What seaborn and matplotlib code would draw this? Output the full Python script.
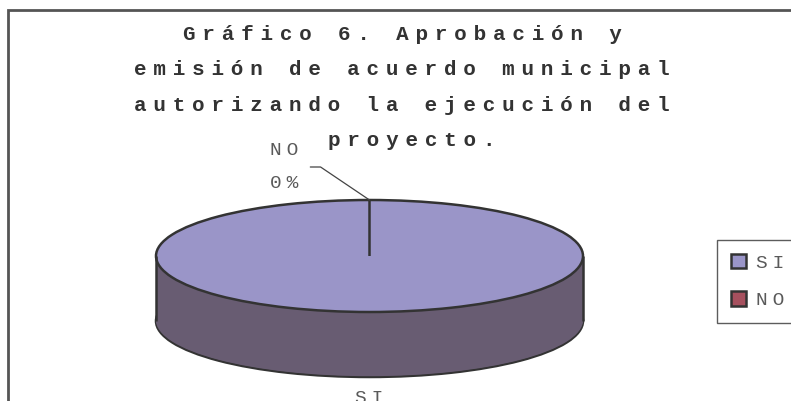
import numpy as np
import matplotlib
matplotlib.use("Agg")
import matplotlib.pyplot as plt
from matplotlib.patches import Rectangle
import seaborn as sns

categories = ["SI", "NO"]
values = [100, 0]
# lines as wrapped in the original chart (wrapped lines keep their trailing space)
title_lines = ["Gráfico 6. Aprobación y ",
               "emisión de acuerdo municipal ",
               "autorizando la ejecución del ",
               "proyecto."]

top_colors = ["#9A95C8", "#A6505E"]
side_colors = ["#685C72", "#6E3440"]
edge = "#333333"
text_grey = "#5a5a5a"

W, H = 791, 401
cx, cy = 369.5, 256   # centre of the pie top (px from top left)
rx, ry = 213.5, 56    # half axes of the top ellipse (px)
depth = 65            # cylinder height (px)

# wide letter spacing like the Courier text of the original
gap_title = "\u2004"
gap_label = "\u2005"


def spaced(s, gap):
    return gap.join(s)


sns.set_style("white")
plt.rcParams["font.family"] = ["Liberation Mono", "DejaVu Sans"]

fig = plt.figure(figsize=(W / 100, H / 100), dpi=100)
ax = fig.add_axes([0, 0, 1, 1])

d = depth / ry
pie_kw = dict(startangle=90, counterclock=False)

# side of the 3d pie: bottom outline, then the same pie stacked upwards
ax.pie(values, colors=side_colors, center=(0, -d),
       wedgeprops=dict(edgecolor=edge, linewidth=1.8), **pie_kw)
for off in np.linspace(-d, 0, 80)[1:]:
    ax.pie(values, colors=side_colors, center=(0, off),
           wedgeprops=dict(linewidth=0), **pie_kw)
ax.vlines([-1, 1], -d, 0, color=edge, lw=1.8)

# top face
wedges, _ = ax.pie(values, colors=top_colors,
                   wedgeprops=dict(edgecolor=edge, linewidth=1.8), **pie_kw)

ax.set_aspect("auto")
ax.set_xlim(-cx / rx, (W - cx) / rx)
ax.set_ylim(-(H - cy) / ry, cy / ry)
ax.axis("off")

# data labels
pcts = [v / sum(values) * 100 for v in values]
t_no = np.deg2rad(wedges[1].theta1)
ax.annotate(spaced(categories[1], gap_label) + "\n" + spaced(f"{pcts[1]:.0f}%", gap_label),
            xy=(np.cos(t_no), np.sin(t_no)), xytext=(-85, 33),
            textcoords="offset pixels", ha="center", va="center",
            fontsize=14, color=text_grey, linespacing=2.3,
            arrowprops=dict(arrowstyle="-", color="#444444", lw=0.9,
                            relpos=(1, 0.5), shrinkA=6, shrinkB=0,
                            connectionstyle="angle,angleA=0,angleB=146"))

t_si = np.deg2rad((wedges[0].theta1 + wedges[0].theta2) / 2)
ax.annotate(spaced(categories[0], gap_label),
            xy=(np.cos(t_si), np.sin(t_si) - d), xytext=(0, -13),
            textcoords="offset pixels", ha="center", va="top",
            fontsize=14, color=text_grey)

# title
for i, line in enumerate(title_lines):
    fig.text(412 / W, 1 - (40 + 35.3 * i) / H, spaced(line, gap_title),
             ha="center", va="baseline", fontsize=15, fontweight="bold",
             color="#333333")

# legend
leg = ax.legend(wedges, [spaced(c, gap_label) for c in categories],
                loc="upper left", bbox_to_anchor=(717 / W, 1 - 240 / H),
                bbox_transform=fig.transFigure, borderaxespad=0,
                frameon=True, fancybox=False, fontsize=14, labelcolor=text_grey,
                handlelength=0.8, handleheight=0.8, handletextpad=0.5,
                labelspacing=1.0, borderpad=0.7)
leg.get_frame().set_edgecolor("#333333")
leg.get_frame().set_linewidth(1.0)

# chart area border (only top and left edges are inside the picture)
fig.add_artist(Rectangle((8 / W, -0.5), 2, 1.5 - 10 / H, transform=fig.transFigure,
                         fill=False, edgecolor="#555555", lw=2))

fig.savefig("out.png", dpi=100)
